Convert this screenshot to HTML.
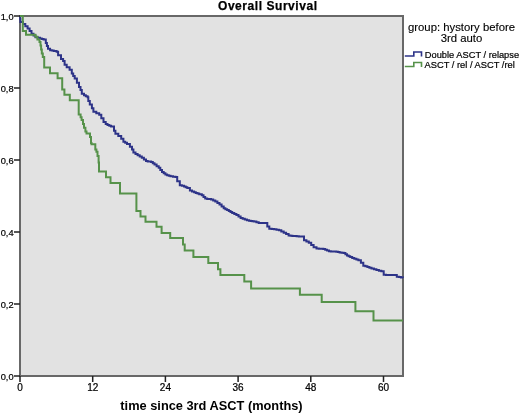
<!DOCTYPE html>
<html><head><meta charset="utf-8">
<style>
html,body{margin:0;padding:0;background:#fff;width:520px;height:415px;overflow:hidden}
svg{display:block;will-change:transform}
text{font-family:"Liberation Sans",sans-serif;fill:#000}
.r text{stroke:#000;stroke-width:0.22px}
.r2 text{stroke:#000;stroke-width:0.12px}
.r3 text{stroke:#000;stroke-width:0.2px}
</style></head><body>
<svg width="520" height="415" viewBox="0 0 520 415">
<rect x="0" y="0" width="520" height="415" fill="#fff"/>
<!-- plot area -->
<rect x="20" y="16" width="383" height="360" fill="#e2e2e2"/>
<!-- title -->
<text x="218" y="9.6" font-size="12" font-weight="bold" textLength="99" lengthAdjust="spacing" style="stroke:#000;stroke-width:0.25px">Overall Survival</text>
<!-- axes frame -->
<g stroke="#686868" stroke-width="2" fill="none">
<path d="M20,15 V377"/>
<path d="M19,16 H404"/>
<path d="M19,376 H404"/>
<path d="M403,15 V377"/>
</g>
<!-- curves -->
<g fill="none" stroke-width="2" stroke-linejoin="miter">
<path id="blue" stroke="#2d3388" d="M20.0,16.0 H20.2 V19.0 H20.4 V22.0 H23.0 V24.0 H25.3 V26.2 H27.6 V28.5 H29.6 V31.1 H31.5 V33.8 H33.5 V35.5 H35.5 V37.2 H37.8 V37.8 H40.0 V38.4 H41.8 V38.9 H43.6 V39.4 H45.8 V43.0 H46.9 V45.9 H48.0 V48.8 H50.1 V50.2 H51.9 V50.6 H53.7 V51.0 H56.6 V51.7 H58.1 V55.3 H61.0 V58.9 H63.1 V61.1 H64.6 V64.7 H66.7 V67.3 H69.6 V69.8 H71.8 V73.4 H73.2 V75.9 H74.7 V78.4 H76.9 V82.8 H79.0 V87.1 H80.5 V90.0 H81.8 V93.7 H84.0 V95.2 H85.8 V96.2 H87.6 V97.3 H88.3 V101.0 H89.8 V104.6 H91.9 V108.2 H93.4 V111.8 H96.3 V113.3 H99.2 V114.7 H101.3 V118.3 H103.5 V121.9 H105.7 V123.9 H107.5 V125.1 H109.3 V125.8 H111.1 V126.5 H114.0 V130.8 H115.4 V133.7 H118.3 V135.9 H121.2 V138.8 H123.4 V141.7 H125.2 V142.8 H127.0 V143.9 H129.9 V146.7 H132.0 V149.6 H133.4 V152.6 H135.5 V153.9 H137.6 V155.2 H139.7 V156.4 H141.8 V157.7 H143.9 V159.4 H146.0 V161.1 H147.7 V161.4 H149.4 V161.6 H151.1 V161.9 H152.8 V163.2 H154.5 V164.5 H156.6 V166.2 H158.7 V167.8 H160.3 V169.9 H162.0 V172.0 H163.7 V173.3 H165.4 V174.6 H167.1 V175.2 H168.8 V175.7 H170.5 V176.3 H173.0 V176.7 H175.5 V177.1 H177.2 V181.3 H179.8 V185.2 H181.9 V185.8 H184.0 V186.4 H185.7 V187.2 H187.3 V188.1 H189.9 V190.6 H192.0 V191.4 H194.1 V192.3 H195.8 V193.0 H197.5 V193.6 H199.2 V194.3 H201.8 V195.2 H203.5 V196.9 H205.2 V198.6 H207.2 V198.9 H209.1 V199.1 H211.1 V199.4 H213.2 V200.5 H215.3 V201.6 H217.4 V203.1 H219.5 V204.5 H221.6 V206.4 H223.7 V208.3 H225.4 V209.2 H227.1 V210.0 H228.8 V211.0 H230.5 V211.9 H232.2 V212.9 H234.3 V214.0 H236.4 V215.1 H238.5 V216.6 H240.6 V218.0 H242.7 V218.8 H244.8 V219.6 H246.9 V220.2 H249.0 V220.8 H250.7 V221.1 H252.4 V221.3 H254.1 V221.6 H256.4 V222.3 H258.7 V223.1 H260.6 V223.1 H262.6 V223.1 H264.5 V223.1 H267.3 V226.4 H269.3 V228.7 H271.7 V229.0 H274.1 V229.3 H276.5 V229.8 H278.9 V230.2 H281.3 V231.4 H283.7 V232.7 H286.1 V234.1 H288.6 V235.6 H290.5 V235.7 H292.4 V235.9 H294.3 V236.0 H296.6 V236.2 H298.8 V236.4 H301.1 V236.6 H304.0 V240.3 H306.4 V241.6 H308.8 V242.8 H311.2 V245.0 H313.6 V247.2 H316.5 V248.6 H318.8 V248.7 H321.0 V248.8 H323.3 V248.9 H325.2 V249.7 H327.1 V250.5 H329.0 V251.3 H330.8 V251.4 H332.6 V251.5 H334.5 V251.6 H336.3 V251.7 H338.0 V252.1 H339.6 V252.5 H341.6 V252.8 H343.7 V253.0 H345.4 V254.2 H347.0 V255.4 H348.6 V256.2 H350.2 V257.1 H352.2 V257.9 H354.3 V258.7 H356.4 V259.5 H358.4 V260.3 H360.9 V262.8 H363.3 V265.7 H365.4 V266.3 H367.4 V266.9 H369.4 V267.7 H371.5 V268.5 H373.9 V269.3 H376.4 V270.1 H378.9 V270.7 H381.3 V271.3 H383.7 V274.7 H386.1 V274.9 H388.6 V275.0 H390.8 V275.0 H393.0 V275.0 H395.2 V275.0 H396.8 V276.7 H398.9 V277.1 H400.9 V277.4 H403.0 V277.8"/>
<path id="green" stroke="#56924a" d="M20,16 H22.8 V30.9 H26 V34.8 H33 H35.4 V36.7 H37.4 V39.4 H39.5 V42.1 H40.5 V45.5 H41.1 V49.6 H41.8 V53.6 H42.8 V57 H44.2 V67.6 H50 V73.2 H57.6 V78.2 H62.2 V89.5 H64.4 V94.7 H69.8 V100.2 H78.7 V114.5 H80.6 V117.2 H81.6 V120 H83 V123.9 H84 V127.8 H85.4 V131.6 H86.5 V133.5 H89.5 H90 V137 H91 V143 H91.5 V144.3 H94.8 H95.3 V149.5 H96.4 V151.7 H97.5 V156 H98.6 V162.5 H99 V171.5 H106 V177.2 H110.5 V183 H120 V193.6 H136.4 V211 H140.5 V216.5 H145.5 V221.8 H156.5 V226.8 H161.6 V233.1 H170.2 V238.1 H183 V244.6 H184.7 V250.5 H193.4 V256.9 H208.3 V263.1 H218 V269.3 H220.4 V275.1 H244.3 V281.4 H251.1 V288.5 H299.9 V294.8 H321.7 V302 H355.4 V311.3 H373.5 V320.6 H403"/>
</g>
<!-- y ticks -->
<g stroke="#222" stroke-width="1.5">
<path d="M14,16 H20 M14,88 H20 M14,160 H20 M14,232 H20 M14,304 H20 M14,376 H20"/>
<path d="M20,376 V382 M92.7,376 V382 M165.4,376 V382 M238.1,376 V382 M310.8,376 V382 M383.5,376 V382"/>
</g>
<g class="r" font-size="9.6" text-anchor="end">
<text x="13.6" y="19.7" textLength="12.9" lengthAdjust="spacingAndGlyphs">1,0</text>
<text x="13.6" y="91.7" textLength="12.9" lengthAdjust="spacingAndGlyphs">0,8</text>
<text x="13.6" y="163.7" textLength="12.9" lengthAdjust="spacingAndGlyphs">0,6</text>
<text x="13.6" y="235.7" textLength="12.9" lengthAdjust="spacingAndGlyphs">0,4</text>
<text x="13.6" y="307.7" textLength="12.9" lengthAdjust="spacingAndGlyphs">0,2</text>
<text x="13.6" y="379.7" textLength="12.9" lengthAdjust="spacingAndGlyphs">0,0</text>
</g>
<g class="r" font-size="10" text-anchor="middle">
<text x="20" y="390.8">0</text>
<text x="92.7" y="390.8">12</text>
<text x="165.4" y="390.8">24</text>
<text x="238.1" y="390.8">36</text>
<text x="310.8" y="390.8">48</text>
<text x="383.5" y="390.8">60</text>
</g>
<text x="211.5" y="410.4" font-size="12.8" font-weight="bold" text-anchor="middle">time since 3rd ASCT (months)</text>
<!-- legend -->
<g class="r2" font-size="11" text-anchor="middle">
<text x="461.5" y="30.8" textLength="107" lengthAdjust="spacingAndGlyphs">group: hystory before</text>
<text x="461.5" y="41.6" textLength="41.6" lengthAdjust="spacingAndGlyphs">3rd auto</text>
</g>
<g fill="none" stroke-width="1.6">
<path stroke="#2d3388" d="M404.8,56 H413.8 V52 H421.5 V56.5"/>
<path stroke="#56924a" d="M404.8,66.5 H413.8 V62.5 H421.5 V67"/>
</g>
<g class="r3" font-size="9.4">
<text x="424.8" y="58" textLength="94.3" lengthAdjust="spacingAndGlyphs">Double ASCT / relapse</text>
<text x="424.6" y="68" textLength="90.2" lengthAdjust="spacingAndGlyphs">ASCT / rel / ASCT /rel</text>
</g>
</svg>
</body></html>
